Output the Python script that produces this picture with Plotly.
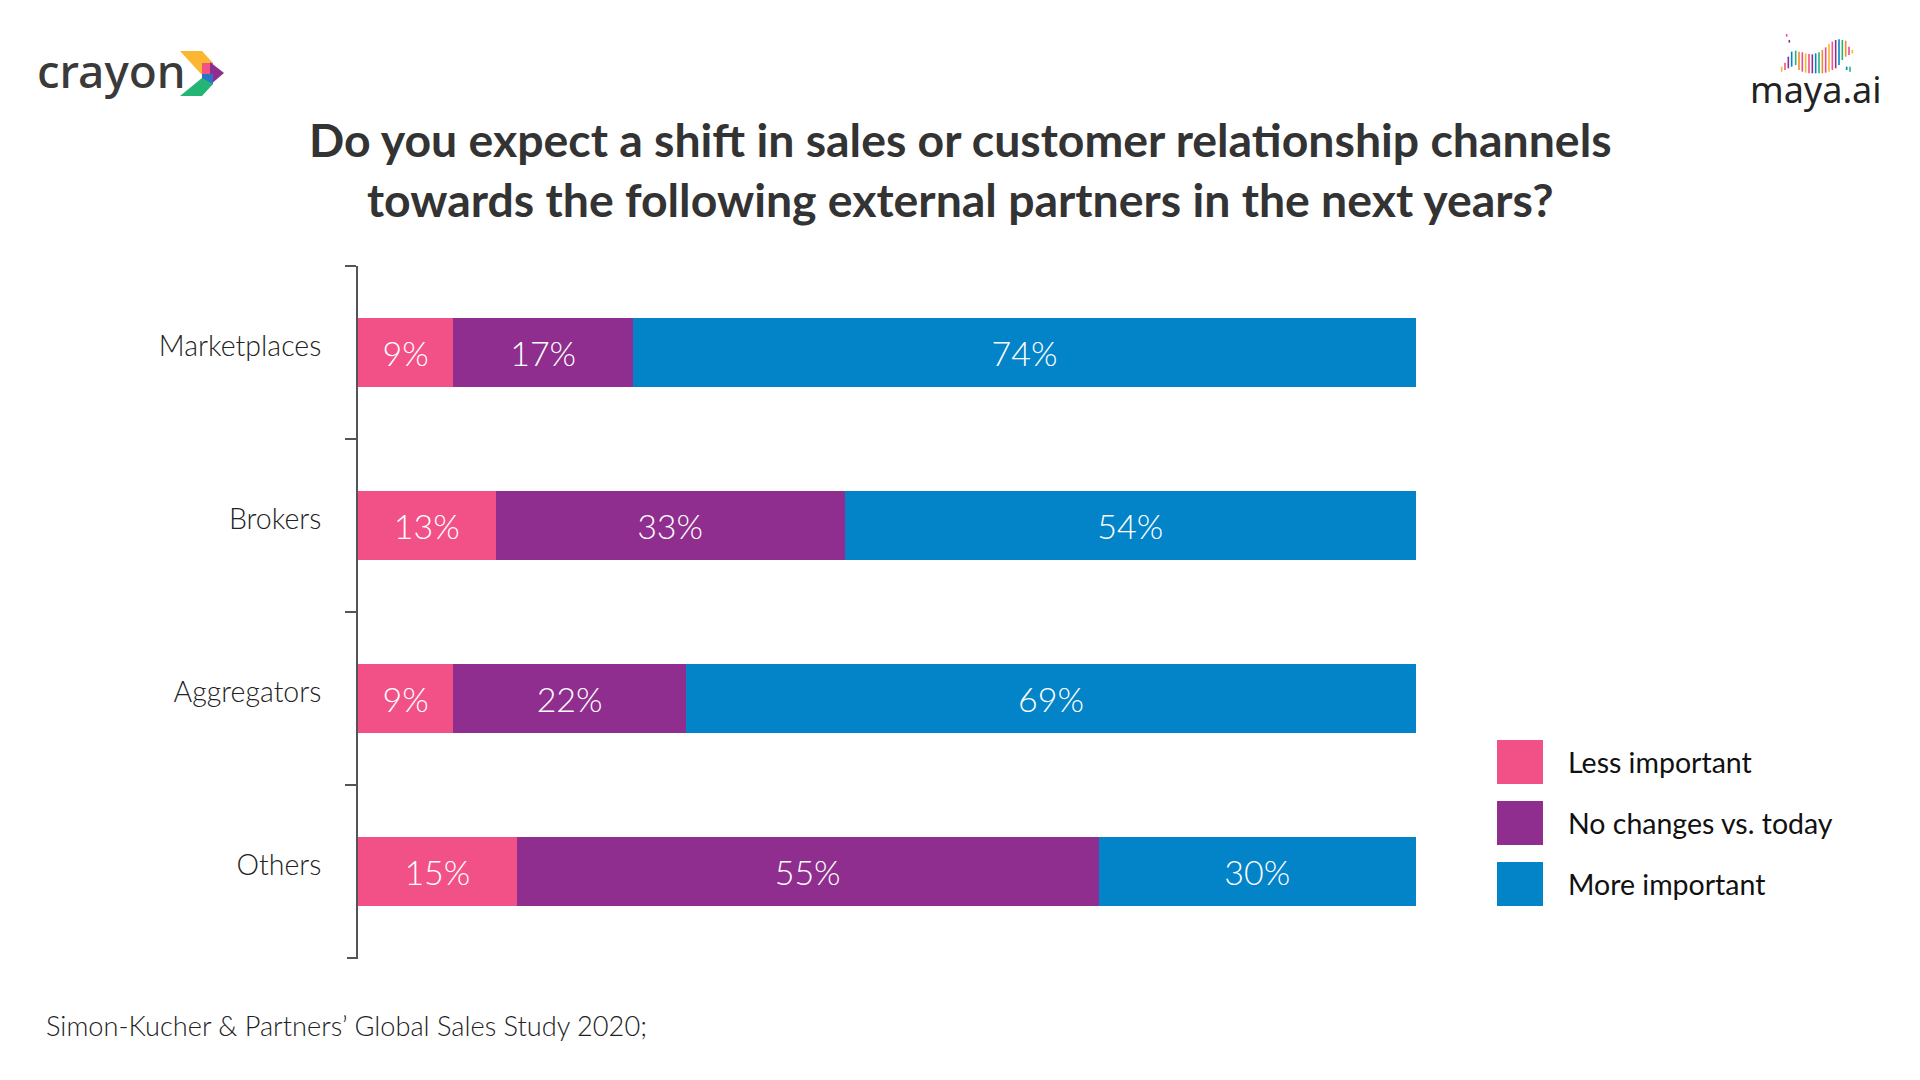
import plotly.graph_objects as go

# ---------------- data ----------------
categories = ["Marketplaces", "Brokers", "Aggregators", "Others"]
series_names = ["Less important", "No changes vs. today", "More important"]
less_important = [9, 13, 9, 15]
no_changes = [17, 33, 22, 55]
more_important = [74, 54, 69, 30]
series_values = [less_important, no_changes, more_important]
colors = ["#F15186", "#8F2E8E", "#0383C8"]

title_lines = ["Do you expect a shift in sales or customer relationship channels",
               "towards the following external partners in the next years?"]
source_text = "Simon-Kucher & Partners’ Global Sales Study 2020;"

# ---------------- layout geometry (pixels in the final page) ----------------
W, H = 1920, 1080
OFF = 8  # page body margin added by the html wrapper
PL, PR, PT, PB = 358 - OFF, 1416 - OFF, 266 - OFF, 958 - OFF


def px(X):
    return (X - OFF - PL) / (PR - PL)


def py(Y):
    return (PB - (Y - OFF)) / (PB - PT)


fig = go.Figure()
for name, vals, col in zip(series_names, series_values, colors):
    fig.add_trace(go.Bar(
        y=categories, x=vals, name=name, orientation="h",
        marker=dict(color=col, line=dict(width=0)),
        text=[f"{v}%" for v in vals], textposition="inside",
        insidetextanchor="middle",
        textfont=dict(family="Lato", size=34, color="white", weight=300),
        showlegend=False, hoverinfo="skip",
    ))

shapes = []
annotations = []

# legend (custom, large squares)
leg_y = [762, 823, 884]
for name, col, yc in zip(series_names, colors, leg_y):
    shapes.append(dict(type="rect", xref="paper", yref="paper",
                       x0=px(1497), x1=px(1543), y0=py(yc - 22), y1=py(yc + 22),
                       fillcolor=col, line=dict(width=0)))
    annotations.append(dict(text=name, xref="paper", yref="paper",
                            x=px(1566), y=py(yc), xanchor="left", yanchor="middle",
                            showarrow=False,
                            font=dict(family="Lato", size=28.5, color="#111111")))

# bottom boundary tick of the category axis
shapes.append(dict(type="line", xref="paper", yref="paper",
                   x0=px(347), x1=px(358), y0=0, y1=0,
                   line=dict(color="#555555", width=2)))

# title
for line, yc in zip(title_lines, [139, 199]):
    annotations.append(dict(text=line, xref="paper", yref="paper",
                            x=px(960), y=py(yc), xanchor="center", yanchor="middle",
                            showarrow=False,
                            font=dict(family="Lato", size=46.4, color="#333333", weight=700)))

# source
annotations.append(dict(text=source_text, xref="paper", yref="paper",
                        x=px(44), y=py(1025), xanchor="left", yanchor="middle",
                        showarrow=False,
                        font=dict(family="Lato", size=27.2, color="#222222", weight=300)))

# crayon logo
annotations.append(dict(text="crayon", xref="paper", yref="paper",
                        x=px(35), y=py(70), xanchor="left", yanchor="middle",
                        showarrow=False,
                        font=dict(family="Noto Sans", size=46, color="#3a3a3a", weight=500)))


def poly(pts, col):
    path = "M " + " L ".join(f"{px(a)},{py(b)}" for a, b in pts) + " Z"
    return dict(type="path", xref="paper", yref="paper", path=path,
                fillcolor=col, line=dict(width=0))


shapes += [
    poly([(180, 51), (202, 51), (213, 63), (202, 63), (202, 75)], "#FBB732"),
    poly([(202, 63), (213, 63), (213, 74), (202, 74)], "#F05384"),
    poly([(210, 62), (224, 73), (210, 85)], "#8F2E8E"),
    poly([(202, 74), (213, 74), (213, 84), (202, 92)], "#2A73C6"),
    poly([(180, 96), (202, 96), (213, 84), (202, 78)], "#22B573"),
]

# maya.ai logo
annotations.append(dict(text="maya.ai", xref="paper", yref="paper",
                        x=px(1816), y=py(90), xanchor="center", yanchor="middle",
                        showarrow=False,
                        font=dict(family="Noto Sans", size=36, color="#222222")))
bars = [(245, 140, 155), (255, 128, 150), (265, 110, 145), (275, 95, 140),
        (287, 92, 135), (297, 95, 150), (307, 97, 155), (317, 100, 158),
        (327, 102, 160), (337, 103, 160), (347, 100, 160), (357, 97, 160),
        (367, 90, 160), (377, 82, 158), (387, 72, 155), (397, 65, 150),
        (407, 60, 145), (417, 58, 135), (427, 60, 120), (437, 62, 110),
        (447, 80, 105), (457, 90, 100), (260, 42, 50), (268, 60, 68),
        (440, 140, 150), (450, 140, 155)]
logo_cols = ["#F7B731", "#F05384", "#8F2E8E", "#0383C8", "#22B573", "#F58A2A", "#E94B8A"]
for i, (zx, zt, zb) in enumerate(bars):
    X = 1700 + zx / 3
    shapes.append(dict(type="line", xref="paper", yref="paper",
                       x0=px(X), x1=px(X), y0=py(20 + zt / 3), y1=py(20 + zb / 3),
                       line=dict(color=logo_cols[i % len(logo_cols)], width=1.6)))

fig.update_layout(
    barmode="stack",
    bargap=0.6,
    width=W, height=H,
    margin=dict(l=PL, r=W - PR, t=PT, b=H - PB, pad=0),
    paper_bgcolor="white", plot_bgcolor="white",
    xaxis=dict(range=[0, 100], visible=False, fixedrange=True),
    yaxis=dict(type="category", categoryorder="array", categoryarray=categories,
               range=[3.5, -0.5], showline=True, linecolor="#555555", linewidth=2,
               ticks="outside", ticklen=11, tickwidth=2, tickcolor="#555555",
               tickson="boundaries", showgrid=False, zeroline=False,
               ticklabelstandoff=29, ticklabelshift=6,
               tickfont=dict(family="Lato", size=28.5, color="#222222", weight=300)),
    shapes=shapes, annotations=annotations,
    showlegend=False,
)

fig.write_html("out.html")
